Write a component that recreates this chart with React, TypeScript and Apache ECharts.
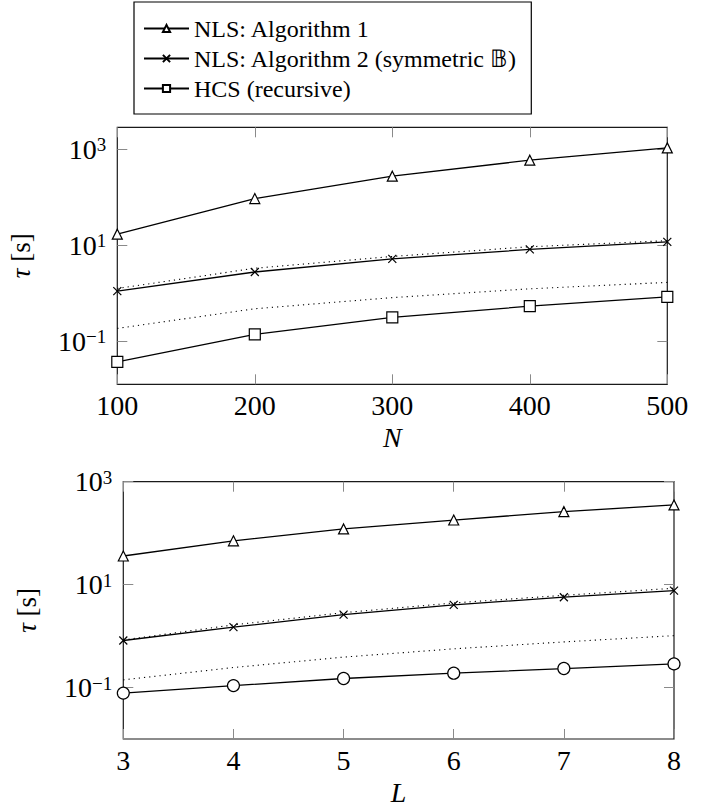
import React, { useEffect, useRef } from 'react';
import * as echarts from 'echarts';

// ---- data (τ in seconds) ----
const nValues = [100, 200, 300, 400, 500];
const nlsAlg1N = [17.2, 95, 278, 598, 1080];
const nlsAlg2N = [1.12, 2.8, 5.26, 8.26, 11.9];
const hcsN = [0.0376, 0.14, 0.316, 0.543, 0.85];
const refUpperN = [1.27, 3.35, 5.9, 9.4, 12.6];
const refLowerN = [0.187, 0.48, 0.82, 1.25, 1.7];

const lValues = [3, 4, 5, 6, 7, 8];
const nlsAlg1L = [36, 71, 121, 180, 262, 353];
const nlsAlg2L = [0.82, 1.49, 2.62, 4.04, 5.69, 7.65];
const hcsL = [0.078, 0.109, 0.15, 0.19, 0.234, 0.288];
const refUpperL = [0.84, 1.65, 2.85, 4.4, 6.2, 8.5];
const refLowerL = [0.141, 0.245, 0.39, 0.565, 0.77, 1.02];

const yTickExponents = [-1, 1, 3];
const legendNames = ['NLS: Algorithm 1', 'NLS: Algorithm 2 (symmetric 𝔹)', 'HCS (recursive)'];

const FONT = 'Liberation Serif';
const TICK_COLOR = '#8a8a8a';
const CROSS = 'path://M0,0L10,10M10,0L0,10';

const pairs = (xs: number[], ys: number[]) => xs.map((x, i) => [x, Math.log10(ys[i])]);

const expLabel = (v: number) => {
  const e = Math.round(v);
  return '{b|10}{s|' + (e < 0 ? '−' + Math.abs(e) : String(e)) + '}';
};

function xAxisDef(gridIndex: number, position: 'top' | 'bottom', min: number, max: number, interval: number, name: string) {
  const bottom = position === 'bottom';
  return {
    type: 'value',
    gridIndex,
    position,
    min,
    max,
    interval,
    name: bottom ? name : '',
    nameLocation: 'middle',
    nameGap: 39,
    nameTextStyle: { fontFamily: FONT, fontSize: 28, fontStyle: 'italic', color: '#000' },
    axisLine: { show: false, onZero: false },
    axisTick: { show: true, inside: true, length: 10, lineStyle: { color: TICK_COLOR, width: 1 } },
    axisLabel: { show: bottom, margin: 7, fontFamily: FONT, fontSize: 28, color: '#000' },
    splitLine: { show: false },
  };
}

function yAxisDef(gridIndex: number, position: 'left' | 'right', min: number, max: number) {
  const left = position === 'left';
  return {
    type: 'value',
    gridIndex,
    position,
    min,
    max,
    name: left ? '{i|τ} [s]' : '',
    nameLocation: 'middle',
    nameRotate: 90,
    nameGap: left ? 83 : 0,
    nameTextStyle: {
      fontFamily: FONT,
      fontSize: 27,
      color: '#000',
      rich: { i: { fontFamily: FONT, fontSize: 27, fontStyle: 'italic', color: '#000' } },
    },
    axisLine: { show: false, onZero: false },
    axisTick: {
      show: true,
      inside: true,
      length: 10,
      customValues: yTickExponents,
      lineStyle: { color: TICK_COLOR, width: 1 },
    },
    axisLabel: {
      show: left,
      margin: 11,
      customValues: yTickExponents,
      formatter: expLabel,
      rich: {
        b: { fontFamily: FONT, fontSize: 28, lineHeight: 28, color: '#000' },
        s: { fontFamily: FONT, fontSize: 19, lineHeight: 14, verticalAlign: 'top', color: '#000' },
      },
    },
    splitLine: { show: false },
  };
}

const markStyle = { color: '#fff', borderColor: '#000', borderWidth: 1.2 };
const lineSolid = { color: '#000', width: 1.3, type: 'solid' };
const lineDotted = { color: '#000', width: 1.1, type: [1.2, 4] };

function dataSeries(name: string, gi: number, data: number[][], symbol: string, size: number) {
  return {
    type: 'line',
    name,
    xAxisIndex: gi * 2,
    yAxisIndex: gi * 2,
    data,
    symbol,
    symbolSize: size,
    showSymbol: true,
    itemStyle: symbol === CROSS ? { color: 'none', borderColor: '#000', borderWidth: 1.2 } : markStyle,
    lineStyle: lineSolid,
    silent: true,
    z: 3,
  };
}

function dottedSeries(name: string, gi: number, data: number[][]) {
  return {
    type: 'line',
    name,
    xAxisIndex: gi * 2,
    yAxisIndex: gi * 2,
    data,
    symbol: 'none',
    lineStyle: lineDotted,
    silent: true,
    z: 2,
  };
}

export default function App() {
  const ref = useRef<HTMLDivElement>(null);
  useEffect(() => {
    if (!ref.current) return;
    const chart = echarts.init(ref.current, undefined, { renderer: 'svg' });
    const option: any = {
      animation: false,
      backgroundColor: '#fff',
      textStyle: { fontFamily: FONT },
      legend: {
        show: true,
        orient: 'vertical',
        left: 134,
        top: 2,
        padding: [13, 14, 12, 9],
        itemGap: 3,
        itemWidth: 45,
        itemHeight: 9,
        borderColor: '#000',
        borderWidth: 1.2,
        borderRadius: 0,
        selectedMode: false,
        textStyle: { fontFamily: FONT, fontSize: 24, color: '#000', lineHeight: 27 },
        data: legendNames,
      },
      grid: [
        { left: 117.3, top: 127.3, width: 550, height: 257, show: true, borderColor: '#1a1a1a', borderWidth: 1.2, backgroundColor: 'transparent', containLabel: false, outerBoundsMode: 'none' },
        { left: 123.3, top: 481.7, width: 550.7, height: 257.3, show: true, borderColor: '#1a1a1a', borderWidth: 1.2, backgroundColor: 'transparent', containLabel: false, outerBoundsMode: 'none' },
      ],
      xAxis: [
        xAxisDef(0, 'bottom', 100, 500, 100, 'N'),
        xAxisDef(0, 'top', 100, 500, 100, ''),
        xAxisDef(1, 'bottom', 3, 8, 1, 'L'),
        xAxisDef(1, 'top', 3, 8, 1, ''),
      ],
      yAxis: [
        yAxisDef(0, 'left', -1.893, 3.462),
        yAxisDef(0, 'right', -1.893, 3.462),
        yAxisDef(1, 'left', -2, 3),
        yAxisDef(1, 'right', -2, 3),
      ],
      series: [
        dottedSeries('refUpperN', 0, pairs(nValues, refUpperN)),
        dottedSeries('refLowerN', 0, pairs(nValues, refLowerN)),
        dataSeries(legendNames[0], 0, pairs(nValues, nlsAlg1N), 'triangle', 10),
        dataSeries(legendNames[1], 0, pairs(nValues, nlsAlg2N), CROSS, 8),
        dataSeries(legendNames[2], 0, pairs(nValues, hcsN), 'rect', 11),
        dottedSeries('refUpperL', 1, pairs(lValues, refUpperL)),
        dottedSeries('refLowerL', 1, pairs(lValues, refLowerL)),
        dataSeries('NLS: Algorithm 1 (L)', 1, pairs(lValues, nlsAlg1L), 'triangle', 10),
        dataSeries('NLS: Algorithm 2 (L)', 1, pairs(lValues, nlsAlg2L), CROSS, 8),
        dataSeries('HCS (L)', 1, pairs(lValues, hcsL), 'circle', 12),
      ],
    };
    chart.setOption(option);
    return () => chart.dispose();
  }, []);
  return (
    <div
      ref={ref}
      style={{ position: 'fixed', left: 0, top: 0, width: 702, height: 809, background: '#fff' }}
    />
  );
}
